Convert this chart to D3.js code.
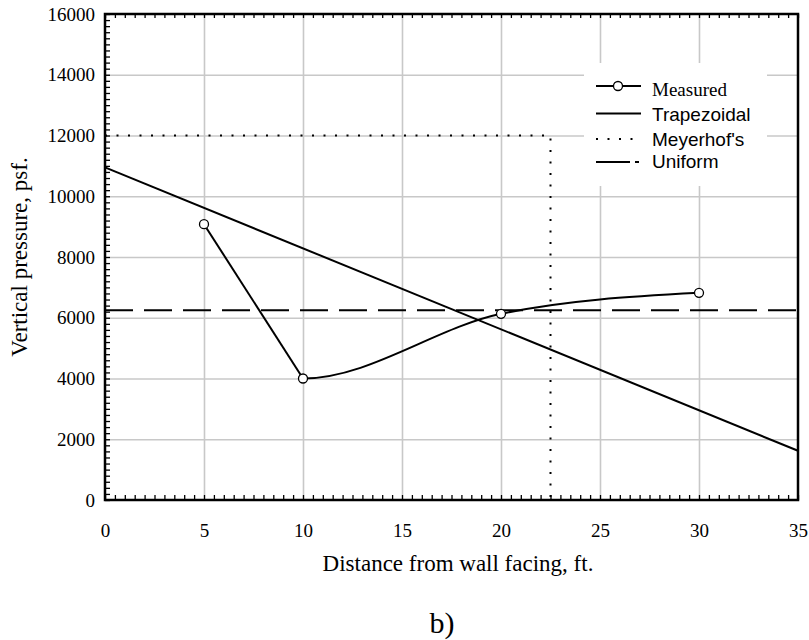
<!DOCTYPE html>
<html>
<head>
<meta charset="utf-8">
<script src="https://cdn.jsdelivr.net/npm/d3@7/dist/d3.min.js"></script>
<style>
  body { margin: 0; background: #fff; }
  svg { display: block; }
  .axis-title { font-family: "Liberation Serif", "Times New Roman", serif; font-size: 23px; fill: #000; }
</style>
</head>
<body>
<svg class="chart" width="809" height="640"></svg>
<script>
// tick labels
const xTicks = [0, 5, 10, 15, 20, 25, 30, 35];
const yTicks = [0, 2000, 4000, 6000, 8000, 10000, 12000, 14000, 16000];

// series
const measuredX = [5, 10, 20, 30];
const measuredY = [9080, 4000, 6130, 6820];
const trapezoidalX = [0, 35];
const trapezoidalY = [10950, 1620];
const meyerhofX = [0, 22.5, 22.5];
const meyerhofY = [12000, 12000, 0];
const uniformX = [0, 35];
const uniformY = [6250, 6250];

const legendLabels = ["Measured", "Trapezoidal", "Meyerhof's", "Uniform"];

function zipXY(xs, ys) {
    return xs.map((x, i) => ({ x: x, y: ys[i] }));
}

function renderChart()
{
    const margin = { top: 14, left: 105, right: 11, bottom: 140 };
    const width = 809 - margin.left - margin.right;
    const height = 640 - margin.top - margin.bottom;
    const svg = d3.select('.chart');
    const g = svg.append('g')
        .attr('transform', `translate(${margin.left}, ${margin.top})`);

    const xScale = d3.scaleLinear().domain([0, 35]).range([0, width]);
    const yScale = d3.scaleLinear().domain([0, 16000]).range([height, 0]);

    // grid
    g.append('g')
        .attr('transform', `translate(0, ${height})`)
        .call(d3.axisBottom(xScale).tickValues(xTicks.slice(1, -1)).tickSize(-height).tickFormat(''))
        .call(a => a.select('.domain').remove())
        .selectAll('line').attr('stroke', '#c8c8c8').attr('stroke-width', 1.6);
    g.append('g')
        .call(d3.axisLeft(yScale).tickValues(yTicks.slice(1, -1)).tickSize(-width).tickFormat(''))
        .call(a => a.select('.domain').remove())
        .selectAll('line').attr('stroke', '#c8c8c8').attr('stroke-width', 1.6);

    // minor ticks, pointing inward
    function minor(axis, transform, size, count) {
        g.append('g')
            .attr('transform', transform)
            .call(axis.ticks(count).tickSize(size).tickFormat(''))
            .call(a => a.select('.domain').remove())
            .selectAll('line').attr('stroke', '#000').attr('stroke-width', 1.3);
    }
    minor(d3.axisBottom(xScale), `translate(0, ${height})`, -5, 70);
    minor(d3.axisTop(xScale), 'translate(0, 0)', -4, 70);
    minor(d3.axisLeft(yScale), 'translate(0, 0)', -5, 80);

    // tick labels
    function labels(sel) {
        sel.select('.domain').remove();
        sel.selectAll('text')
            .style('font-family', '"Liberation Serif", "Times New Roman", serif')
            .style('font-size', '19px')
            .attr('fill', '#000');
    }
    g.append('g')
        .attr('transform', `translate(0, ${height})`)
        .call(d3.axisBottom(xScale).tickValues(xTicks).tickSize(0).tickPadding(23.5).tickFormat(d3.format('d')))
        .call(labels);
    g.append('g')
        .call(d3.axisLeft(yScale).tickValues(yTicks).tickSize(0).tickPadding(10).tickFormat(d3.format('d')))
        .call(labels);

    // series
    const line = d3.line().x(d => xScale(d.x)).y(d => yScale(d.y));

    g.append('path')
        .datum(zipXY(uniformX, uniformY))
        .attr('d', line)
        .attr('fill', 'none').attr('stroke', '#000')
        .attr('stroke-width', 2).attr('stroke-dasharray', '28,11');

    g.append('path')
        .datum(zipXY(meyerhofX, meyerhofY))
        .attr('d', line)
        .attr('fill', 'none').attr('stroke', '#000')
        .attr('stroke-width', 2).attr('stroke-dasharray', '2,9.5');

    g.append('path')
        .datum(zipXY(trapezoidalX, trapezoidalY))
        .attr('d', line)
        .attr('fill', 'none').attr('stroke', '#000')
        .attr('stroke-width', 2);

    // measured curve: straight drop to the low point at 10 ft, smooth after it
    const measured = zipXY(measuredX, measuredY);
    const split = xScale(measuredX[1]);
    const defs = svg.append('defs');
    defs.append('clipPath').attr('id', 'clipRight')
        .append('rect').attr('x', split).attr('y', -10).attr('width', width - split + 10).attr('height', height + 20);

    g.append('path')
        .datum(measured.slice(0, 2))
        .attr('d', line)
        .attr('fill', 'none').attr('stroke', '#000').attr('stroke-width', 2);
    g.append('path')
        .datum(measured)
        .attr('d', line.curve(d3.curveMonotoneX))
        .attr('clip-path', 'url(#clipRight)')
        .attr('fill', 'none').attr('stroke', '#000').attr('stroke-width', 2);
    line.curve(d3.curveLinear);

    g.selectAll('.marker')
        .data(measured)
        .enter()
        .append('circle')
        .attr('class', 'marker')
        .attr('cx', d => xScale(d.x))
        .attr('cy', d => yScale(d.y))
        .attr('r', 4.5)
        .attr('fill', '#fff').attr('stroke', '#000').attr('stroke-width', 1.3);

    // frame
    g.append('rect')
        .attr('width', width).attr('height', height)
        .attr('fill', 'none').attr('stroke', '#000').attr('stroke-width', 2.5);

    // legend
    const legend = svg.append('g').attr('transform', 'translate(584, 63)');
    legend.append('rect').attr('width', 183).attr('height', 123).attr('fill', '#fff');
    const rows = [23, 50.5, 76, 99];
    const textY = [33, 58, 82.5, 105];
    const styles = [
        { dash: null, font: '"Liberation Serif", serif' },
        { dash: null, font: '"Liberation Sans", Arial, sans-serif' },
        { dash: '2,9.5', font: '"Liberation Sans", Arial, sans-serif' },
        { dash: '34,5,4', font: '"Liberation Sans", Arial, sans-serif' }
    ];
    legendLabels.forEach((label, i) => {
        legend.append('line')
            .attr('x1', 12).attr('x2', 57)
            .attr('y1', rows[i]).attr('y2', rows[i])
            .attr('stroke', '#000').attr('stroke-width', 2)
            .attr('stroke-dasharray', styles[i].dash);
        legend.append('text')
            .attr('x', 68).attr('y', textY[i])
            .style('font-family', styles[i].font)
            .style('font-size', '19px')
            .text(label);
    });
    legend.append('circle')
        .attr('cx', 34).attr('cy', rows[0]).attr('r', 4.5)
        .attr('fill', '#fff').attr('stroke', '#000').attr('stroke-width', 1.3);

    // titles
    svg.append('text')
        .attr('class', 'axis-title')
        .attr('x', 458).attr('y', 571)
        .attr('text-anchor', 'middle')
        .text('Distance from wall facing, ft.');
    svg.append('text')
        .attr('class', 'axis-title')
        .attr('transform', 'translate(27, 257) rotate(-90)')
        .attr('text-anchor', 'middle')
        .text('Vertical pressure, psf.');
    svg.append('text')
        .attr('class', 'axis-title')
        .attr('x', 442).attr('y', 633)
        .attr('text-anchor', 'middle')
        .style('font-size', '30px')
        .text('b)');
}

renderChart();
</script>
</body>
</html>
